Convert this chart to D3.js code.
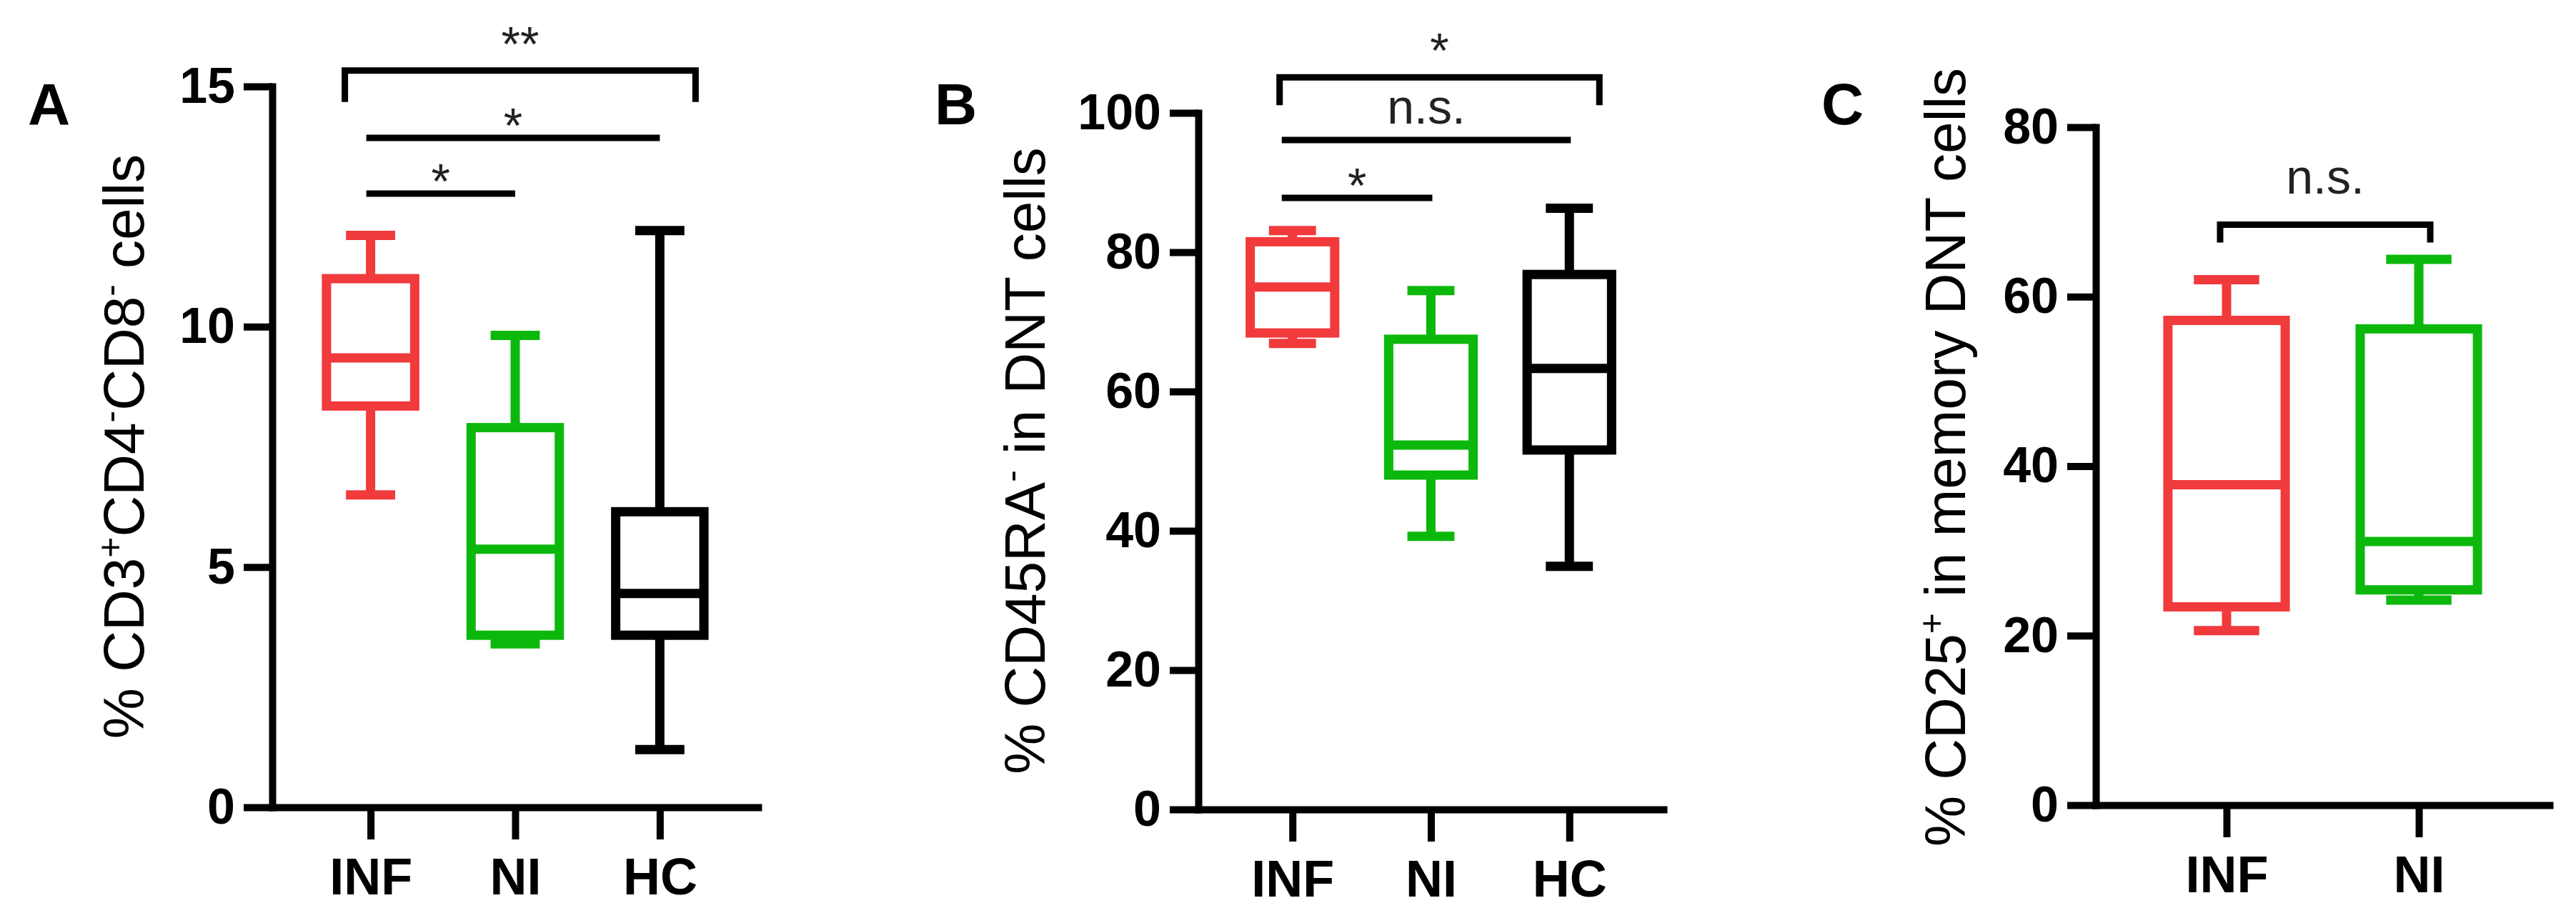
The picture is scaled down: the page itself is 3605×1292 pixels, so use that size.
<!DOCTYPE html>
<html>
<head>
<meta charset="utf-8">
<script src="https://cdn.jsdelivr.net/npm/d3@7"></script>
<style>
  body { margin: 0; background: #fff; }
  text { font-family: "Liberation Sans", Arial, sans-serif; }
</style>
</head>
<body>
<script>
// Groups on the x axis
var groupsABC = ["INF", "NI", "HC"];
var groupsC = ["INF", "NI"];

// Box stats per group: [min, q1, median, q3, max]
var boxA = [[6.5, 8.35, 9.35, 11.0, 11.9], [3.4, 3.58, 5.37, 7.9, 9.82], [1.2, 3.58, 4.45, 6.15, 12.0]];
var boxB = [[66.9, 68.4, 75.0, 81.5, 83.1], [39.2, 48.0, 52.3, 67.5, 74.5], [34.9, 51.6, 63.3, 76.8, 86.3]];
var boxC = [[20.6, 23.4, 37.8, 57.2, 62.0], [24.2, 25.4, 31.1, 56.2, 64.4]];

// Y tick values
var ticksA = [0, 5, 10, 15];
var ticksB = [0, 20, 40, 60, 80, 100];
var ticksC = [0, 20, 40, 60, 80];

// Significance brackets (level in y units)
var sigA = [
  { from: "INF", to: "HC", level: 15.33, label: "**", legs: true },
  { from: "INF", to: "HC", level: 13.93, label: "*", legs: false },
  { from: "INF", to: "NI", level: 12.77, label: "*", legs: false }
];
var sigB = [
  { from: "INF", to: "HC", level: 105.1, label: "*", legs: true },
  { from: "INF", to: "HC", level: 96.1, label: "n.s.", legs: false },
  { from: "INF", to: "NI", level: 87.8, label: "*", legs: false }
];
var sigC = [
  { from: "INF", to: "NI", level: 68.5, label: "n.s.", legs: true }
];

var groupColors = { INF: "#f03a3c", NI: "#0cb80c", HC: "#000000" };

// Panel layout
var panels = [
  { letter: "A", letterX: 39, groups: groupsABC, boxes: boxA, ticks: ticksA, yMax: 15,
    left: 381, right: 1061, y0: 1130, yTop: 121, brackets: sigA,
    legPad: [-36, 50], linePad: [-6, 0], legLen: 44,
    titleX: 201, titleY: 625,
    title: [["% CD3", 0], ["+", 1], ["CD4", 0], ["-", 1], ["CD8", 0], ["-", 1], [" cells", 0]] },
  { letter: "B", letterX: 1308, groups: groupsABC, boxes: boxB, ticks: ticksB, yMax: 100,
    left: 1677, right: 2328, y0: 1133, yTop: 158, brackets: sigB,
    legPad: [-18, 42], linePad: [-15, 2], legLen: 39,
    titleX: 1462, titleY: 645,
    title: [["% CD45RA", 0], ["-", 1], [" in DNT cells", 0]] },
  { letter: "C", letterX: 2549, groups: groupsC, boxes: boxC, ticks: ticksC, yMax: 80,
    left: 2933, right: 3568, y0: 1127, yTop: 178, brackets: sigC,
    legPad: [-9, 16], linePad: [0, 0], legLen: 25,
    titleX: 2750, titleY: 640,
    title: [["% CD25", 0], ["+", 1], [" in memory DNT cells", 0]] }
];

var svg = d3.select("body")
  .append("svg")
  .attr("width", 3605)
  .attr("height", 1292);

panels.forEach(function(p) {
  var g = svg.append("g");

  var x = d3.scalePoint()
    .domain(p.groups)
    .range([p.left, p.right])
    .padding(0.68);

  var y = d3.scaleLinear()
    .domain([0, p.yMax])
    .range([p.y0, p.yTop]);

  var step = x.step();
  var boxW = step * 0.61;
  var capW = step * 0.34;

  // axes
  var leftAxis = d3.axisLeft(y).tickValues(p.ticks).tickSize(40).tickPadding(12).tickSizeOuter(0);
  var bottomAxis = d3.axisBottom(x).tickSize(45).tickPadding(26).tickSizeOuter(0);

  var ya = g.append("g")
    .attr("transform", `translate(${p.left},0)`)
    .call(leftAxis);
  var xa = g.append("g")
    .attr("transform", `translate(0,${p.y0})`)
    .call(bottomAxis);

  [ya, xa].forEach(function(a) {
    a.selectAll("path, line").attr("stroke", "#000").attr("stroke-width", 10);
    a.select(".domain").attr("stroke-linecap", "square");
    a.selectAll("text")
      .attr("fill", "#000")
      .style("font-family", '"Liberation Sans", Arial, sans-serif')
      .style("font-weight", "bold");
  });
  ya.selectAll("text").style("font-size", "70px");
  xa.selectAll("text").style("font-size", "72px");

  // boxes
  var bg = g.selectAll(".box")
    .data(p.boxes)
    .enter()
    .append("g")
    .attr("class", "box")
    .attr("stroke", function(d, i) { return groupColors[p.groups[i]]; })
    .attr("stroke-width", 13)
    .attr("fill", "none");

  bg.append("line")
    .attr("x1", function(d, i) { return x(p.groups[i]); })
    .attr("x2", function(d, i) { return x(p.groups[i]); })
    .attr("y1", function(d) { return y(d[3]); })
    .attr("y2", function(d) { return y(d[4]); });
  bg.append("line")
    .attr("x1", function(d, i) { return x(p.groups[i]); })
    .attr("x2", function(d, i) { return x(p.groups[i]); })
    .attr("y1", function(d) { return y(d[1]); })
    .attr("y2", function(d) { return y(d[0]); });
  [0, 4].forEach(function(k) {
    bg.append("line")
      .attr("x1", function(d, i) { return x(p.groups[i]) - capW / 2; })
      .attr("x2", function(d, i) { return x(p.groups[i]) + capW / 2; })
      .attr("y1", function(d) { return y(d[k]); })
      .attr("y2", function(d) { return y(d[k]); });
  });
  bg.append("rect")
    .attr("x", function(d, i) { return x(p.groups[i]) - boxW / 2; })
    .attr("y", function(d) { return y(d[3]); })
    .attr("width", boxW)
    .attr("height", function(d) { return y(d[1]) - y(d[3]); })
    .attr("fill", "#fff");
  bg.append("line")
    .attr("x1", function(d, i) { return x(p.groups[i]) - boxW / 2; })
    .attr("x2", function(d, i) { return x(p.groups[i]) + boxW / 2; })
    .attr("y1", function(d) { return y(d[2]); })
    .attr("y2", function(d) { return y(d[2]); });

  // significance brackets
  p.brackets.forEach(function(b) {
    var pad = b.legs ? p.legPad : p.linePad;
    var x1 = x(b.from) + pad[0];
    var x2 = x(b.to) + pad[1];
    var yy = y(b.level);
    var path = b.legs
      ? `M${x1},${yy + p.legLen}V${yy}H${x2}V${yy + p.legLen}`
      : `M${x1},${yy}H${x2}`;
    g.append("path")
      .attr("d", path)
      .attr("fill", "none")
      .attr("stroke", "#000")
      .attr("stroke-width", 9);

    var gap = b.legs ? 43 : 23;
    var isStar = b.label.indexOf("*") >= 0;
    g.append("text")
      .attr("x", (x1 + x2) / 2)
      .attr("y", isStar ? yy - gap + 29 : yy - gap)
      .attr("text-anchor", "middle")
      .attr("fill", "#222")
      .style("font-size", "68px")
      .text(b.label);
  });

  // y axis title with superscripts
  var t = g.append("text")
    .attr("transform", `translate(${p.titleX},${p.titleY}) rotate(-90)`)
    .attr("text-anchor", "middle")
    .attr("fill", "#000")
    .style("font-size", "80px");
  var up = false;
  p.title.forEach(function(part) {
    var s = t.append("tspan").text(part[0]);
    if (part[1] && !up) { s.attr("dy", -30).style("font-size", "50px"); up = true; }
    else if (!part[1] && up) { s.attr("dy", 30); up = false; }
    else if (part[1]) { s.style("font-size", "50px"); }
  });

  // panel letter
  g.append("text")
    .attr("x", p.letterX)
    .attr("y", 174)
    .attr("fill", "#000")
    .style("font-size", "82px")
    .style("font-weight", "bold")
    .text(p.letter);
});
</script>
</body>
</html>
